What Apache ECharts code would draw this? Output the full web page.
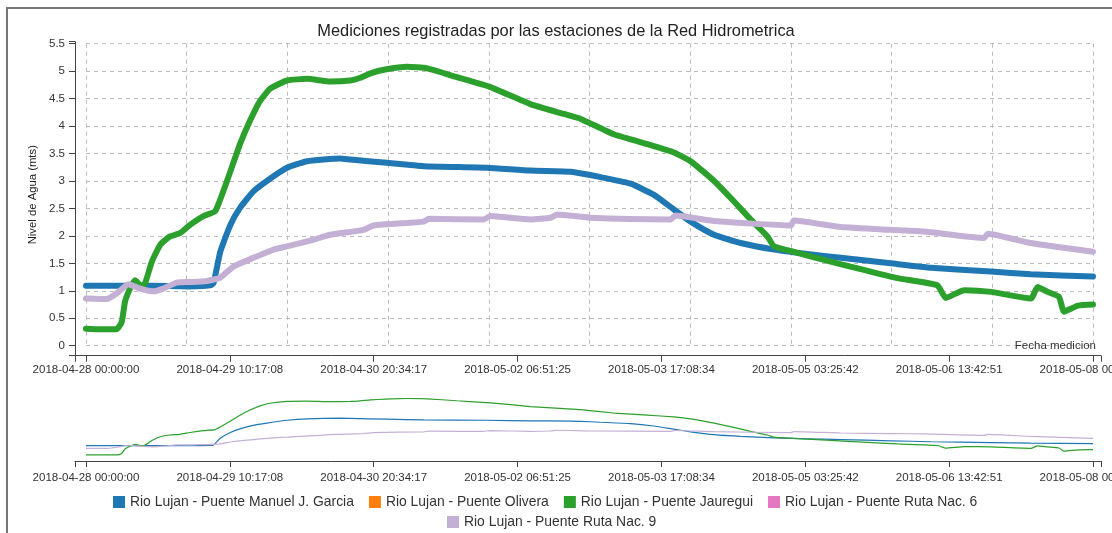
<!DOCTYPE html>
<html>
<head>
<meta charset="utf-8">
<script src="https://cdn.jsdelivr.net/npm/echarts@6/dist/echarts.min.js"></script>
<style>
html,body{margin:0;padding:0;background:#fff;}
#chart{width:1112px;height:533px;}
</style>
</head>
<body>
<div id="chart"></div>
<script>
// ---------- DATA ----------
const titleText = 'Mediciones registradas por las estaciones de la Red Hidrometrica';
const yAxisName = 'Nivel de Agua (mts)';
const xAxisName = 'Fecha medicion';
const startDate = [2018, 4, 28];   // 2018-04-28 00:00:00
const endDate = [2018, 5, 8];      // 2018-05-08 00:00:00
const xTickCount = 7;              // labelled ticks between start and end
const yTicks = [0, 0.5, 1, 1.5, 2, 2.5, 3, 3.5, 4, 4.5, 5, 5.5];

const stationNames = [
  'Rio Lujan - Puente Manuel J. Garcia',
  'Rio Lujan - Puente Olivera',
  'Rio Lujan - Puente Jauregui',
  'Rio Lujan - Puente Ruta Nac. 6',
  'Rio Lujan - Puente Ruta Nac. 9'
];
const stationColors = ['#1f77b4', '#ff7f0e', '#2ca02c', '#e377c2', '#c5b0d5'];

// hours since 2018-04-28 00:00:00 and water level (m)
const garciaHours = [0, 15.3, 24.8, 29.6, 30.4, 32, 34.4, 36.7, 39.9, 43.1, 47.9, 52.7, 60.6, 63, 71.7, 80.5, 95.6, 105.9, 115.5, 120.2, 122.6, 129.8, 135.3, 140.1, 144.1, 149.7, 156, 164, 171.9, 179.9, 191.8, 201.4, 215.7, 225.2, 240];
const garciaLevel = [1.09, 1.09, 1.08, 1.10, 1.14, 1.71, 2.20, 2.51, 2.81, 3.00, 3.24, 3.36, 3.41, 3.39, 3.33, 3.27, 3.24, 3.19, 3.17, 3.11, 3.07, 2.95, 2.75, 2.48, 2.26, 2.02, 1.87, 1.75, 1.67, 1.60, 1.50, 1.42, 1.35, 1.30, 1.26];

const oliveraHours = [];
const oliveraLevel = [];

const jaureguiHours = [0, 3.3, 7.3, 8.5, 9.3, 10.5, 11.7, 13.3, 14.1, 15.7, 17.7, 20, 22.4, 24.8, 28, 30.8, 33.6, 36.7, 39.1, 41.5, 43.9, 47.9, 52.7, 58.2, 63, 65.4, 67.8, 71.3, 76.5, 81.3, 88.4, 96.4, 105.9, 113.9, 117.9, 125.8, 133.8, 140.1, 144.1, 149.7, 154.4, 158.4, 162.4, 164, 168.7, 177.5, 185.4, 193.4, 202.9, 204.9, 209.3, 215.7, 225.2, 226.8, 229.2, 231.9, 233.1, 236.4, 240];
const jaureguiLevel = [0.31, 0.30, 0.30, 0.43, 0.80, 1.04, 1.19, 1.08, 1.14, 1.53, 1.84, 1.99, 2.05, 2.20, 2.36, 2.45, 3.00, 3.67, 4.10, 4.46, 4.68, 4.83, 4.86, 4.81, 4.83, 4.88, 4.96, 5.03, 5.08, 5.05, 4.89, 4.71, 4.40, 4.22, 4.13, 3.85, 3.67, 3.52, 3.36, 3.00, 2.63, 2.30, 1.99, 1.81, 1.71, 1.53, 1.38, 1.23, 1.10, 0.87, 1.01, 0.98, 0.86, 1.07, 0.98, 0.89, 0.62, 0.73, 0.75];

const ruta6Hours = [];
const ruta6Level = [];

const ruta9Hours = [0, 4.9, 7.3, 10.1, 12.9, 16.1, 18.4, 21.6, 24.8, 28.8, 32, 35.1, 39.9, 44.7, 47.9, 54.2, 58.2, 66.2, 68.5, 80.5, 81.7, 94.8, 96.4, 105.9, 110.7, 112.3, 120.2, 139.3, 140.5, 149.7, 168, 168.7, 179.9, 191.8, 199.8, 214.1, 214.9, 225.2, 240];
const ruta9Level = [0.86, 0.85, 0.95, 1.12, 1.04, 0.99, 1.04, 1.15, 1.16, 1.18, 1.24, 1.44, 1.60, 1.75, 1.81, 1.93, 2.02, 2.11, 2.19, 2.26, 2.31, 2.30, 2.36, 2.30, 2.33, 2.39, 2.33, 2.30, 2.37, 2.27, 2.19, 2.28, 2.16, 2.11, 2.08, 1.96, 2.04, 1.87, 1.71];

// ---------- BUILD ----------
const START = Date.UTC(startDate[0], startDate[1] - 1, startDate[2]);
const END = Date.UTC(endDate[0], endDate[1] - 1, endDate[2]);
const HOUR = 3600000, DAY = 86400000;
const TICK_STEP = (END - START) / xTickCount;

const allHours = [garciaHours, oliveraHours, jaureguiHours, ruta6Hours, ruta9Hours];
const allLevels = [garciaLevel, oliveraLevel, jaureguiLevel, ruta6Level, ruta9Level];

function pts(h, l) { return h.map((v, i) => [START + v * HOUR, l[i]]); }
function pad(n) { return String(n).padStart(2, '0'); }
function fmt(v) {
  const d = new Date(Math.floor((v + 1) / 1000) * 1000);
  return d.getUTCFullYear() + '-' + pad(d.getUTCMonth() + 1) + '-' + pad(d.getUTCDate()) + ' ' +
    pad(d.getUTCHours()) + ':' + pad(d.getUTCMinutes()) + ':' + pad(d.getUTCSeconds());
}

const FONT = "'Liberation Sans', Arial, sans-serif";
const TXT = '#333';
const AXIS = '#444';
const dashed = { show: true, lineStyle: { color: '#bbb', type: [4, 4], width: 1 } };

const series = [];
stationNames.forEach((name, i) => {
  series.push({
    type: 'line', name: name, xAxisIndex: 0, yAxisIndex: 0,
    data: pts(allHours[i], allLevels[i]),
    showSymbol: false, smooth: 0.15, animation: false,
    lineStyle: { width: 6, color: stationColors[i], cap: 'round', join: 'round' },
    itemStyle: { color: stationColors[i] }
  });
});
stationNames.forEach((name, i) => {
  series.push({
    type: 'line', name: name, xAxisIndex: 3, yAxisIndex: 2,
    data: pts(allHours[i], allLevels[i]),
    showSymbol: false, smooth: 0.15, animation: false,
    lineStyle: { width: 1.2, color: stationColors[i] },
    itemStyle: { color: stationColors[i] }
  });
});

const gridBase = { outerBoundsMode: 'none', containLabel: false };
const legendBase = {
  padding: 0, icon: 'rect', itemWidth: 12, itemHeight: 12, itemGap: 15, itemTextGap: 6,
  textStyle: { fontFamily: FONT, fontSize: 13.9, color: TXT }
};

const option = {
  backgroundColor: '#fff',
  animation: false,
  textStyle: { fontFamily: FONT },
  title: {
    text: titleText, left: 'center', top: 18,
    textStyle: { fontFamily: FONT, fontSize: 16.4, fontWeight: 'normal', color: '#222' }
  },
  legend: [
    Object.assign({ data: stationNames.slice(0, 4), left: 113, top: 495 }, legendBase),
    Object.assign({ data: stationNames.slice(4), left: 447, top: 515 }, legendBase)
  ],
  grid: [
    Object.assign({ left: 86, right: 19, top: 43.7, bottom: 533 - 345.7 }, gridBase),   // main plot
    Object.assign({ left: 75, right: 11, top: 41.7, bottom: 533 - 355.7 }, gridBase),   // main axis frame
    Object.assign({ left: 86, right: 19, top: 398.5, bottom: 533 - 458.5 }, gridBase),  // overview
    Object.assign({ left: 75, right: 11, top: 400, bottom: 533 - 461 }, gridBase)       // overview axis frame
  ],
  xAxis: [
    { // 0: daily grid lines
      type: 'value', gridIndex: 0, position: 'bottom', min: START, max: END, interval: DAY,
      axisLine: { show: false, onZero: false }, axisTick: { show: false }, axisLabel: { show: false },
      splitLine: dashed
    },
    { // 1: main date labels
      type: 'value', gridIndex: 0, position: 'bottom', min: START, max: END, interval: TICK_STEP, offset: 10,
      axisLine: { show: false, onZero: false },
      axisTick: { show: true, length: 6, lineStyle: { color: AXIS } },
      axisLabel: { show: true, margin: 8, formatter: fmt, fontFamily: FONT, fontSize: 11.5, color: TXT, hideOverlap: false, showMinLabel: true, showMaxLabel: true },
      splitLine: { show: false }
    },
    { // 2: main frame line
      type: 'value', gridIndex: 1, position: 'bottom', min: 0, max: 1, interval: 1,
      axisLine: { show: true, onZero: false, lineStyle: { color: AXIS, width: 1 } },
      axisTick: { show: true, length: 6, lineStyle: { color: AXIS } },
      axisLabel: { show: false }, splitLine: { show: false },
      name: xAxisName, nameLocation: 'end', nameGap: -5,
      nameTextStyle: { fontFamily: FONT, fontSize: 11.5, color: TXT, align: 'right', verticalAlign: 'bottom', padding: [0, 0, 4, 0] }
    },
    { // 3: overview date labels
      type: 'value', gridIndex: 2, position: 'bottom', min: START, max: END, interval: TICK_STEP, offset: 2.5,
      axisLine: { show: false, onZero: false },
      axisTick: { show: true, length: 6, lineStyle: { color: AXIS } },
      axisLabel: { show: true, margin: 11, formatter: fmt, fontFamily: FONT, fontSize: 11.5, color: TXT, hideOverlap: false, showMinLabel: true, showMaxLabel: true },
      splitLine: { show: false }
    },
    { // 4: overview frame line
      type: 'value', gridIndex: 3, position: 'bottom', min: 0, max: 1, interval: 1,
      axisLine: { show: true, onZero: false, lineStyle: { color: AXIS, width: 1 } },
      axisTick: { show: true, length: 6, lineStyle: { color: AXIS } },
      axisLabel: { show: false }, splitLine: { show: false }
    }
  ],
  yAxis: [
    { // 0: main values
      type: 'value', gridIndex: 0, position: 'left', min: yTicks[0], max: yTicks[yTicks.length - 1],
      interval: yTicks[1] - yTicks[0], offset: 11,
      axisLine: { show: false, onZero: false },
      axisTick: { show: true, length: 6, lineStyle: { color: AXIS } },
      axisLabel: { show: true, margin: 10, fontFamily: FONT, fontSize: 11.5, color: TXT },
      splitLine: dashed,
      name: yAxisName, nameLocation: 'middle', nameGap: 37,
      nameTextStyle: { fontFamily: FONT, fontSize: 11.3, color: '#222' }
    },
    { // 1: main frame
      type: 'value', gridIndex: 1, position: 'left', min: 0, max: 1, interval: 1,
      axisLine: { show: true, onZero: false, lineStyle: { color: AXIS, width: 1 } },
      axisTick: { show: true, length: 6, lineStyle: { color: AXIS } },
      axisLabel: { show: false }, splitLine: { show: false }
    },
    { // 2: overview values
      type: 'value', gridIndex: 2, min: 0, max: 'dataMax', show: false
    },
    { // 3: overview frame
      type: 'value', gridIndex: 3, min: 0, max: 1, show: false
    }
  ],
  graphic: [
    {
      type: 'rect', silent: true, z: 100,
      shape: { x: 7, y: 8, width: 1300, height: 700 },
      style: { fill: 'none', stroke: '#777', lineWidth: 2 }
    }
  ],
  series: series
};

const chart = echarts.init(document.getElementById('chart'), null, { renderer: 'canvas' });
chart.setOption(option);
</script>
</body>
</html>
